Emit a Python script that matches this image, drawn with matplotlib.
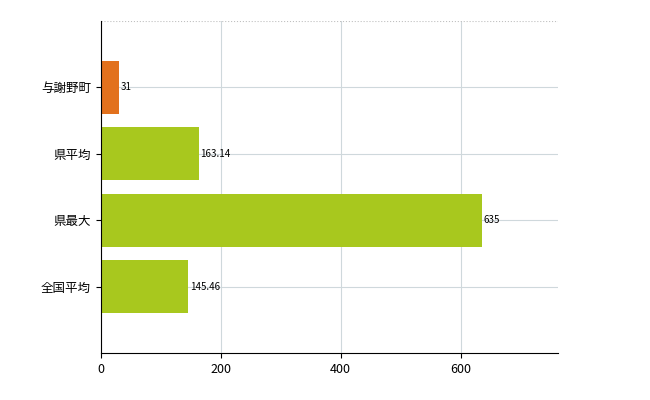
import matplotlib
matplotlib.use("Agg")
import matplotlib.pyplot as plt

plt.rcParams['font.family'] = ['Noto Sans CJK JP', 'DejaVu Sans']

categories = ["全国平均", "県最大", "県平均", "与謝野町"]
values = [145.46, 635, 163.14, 31]
labels = ["145.46", "635", "163.14", "31"]
colors = ["#a8c81e", "#a8c81e", "#a8c81e", "#e2711d"]

fig = plt.figure(figsize=(6.5, 4.0), dpi=100)
ax = fig.add_axes([0.155, 0.1175, 0.703, 0.83])

pos = list(range(len(categories)))
ax.barh(pos, values, height=0.8, color=colors, zorder=2)
for p, v, t in zip(pos, values, labels):
    ax.text(v + 3, p, t, va="center", ha="left", fontsize=7, zorder=3)

ax.set_xlim(0, 762)
ax.set_ylim(-1, 4)
ax.set_yticks(pos)
ax.set_yticklabels(categories, fontsize=9)
ax.set_xticks([0, 200, 400, 600])
ax.tick_params(axis="x", labelsize=9)
ax.grid(True, color="#cfd8dc", linewidth=0.8, zorder=0)
ax.axhline(4, color="#c0c0c0", linewidth=0.8, linestyle=":")
for s in ["top", "right"]:
    ax.spines[s].set_visible(False)

fig.savefig("out.png", dpi=100)
